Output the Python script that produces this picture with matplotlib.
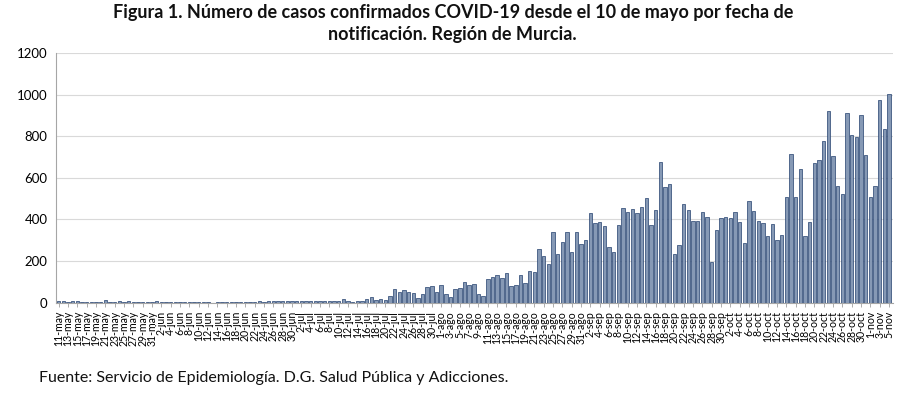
import matplotlib
matplotlib.use("Agg")
import matplotlib.pyplot as plt
import numpy as np
import datetime as dt

plt.rcParams['font.family'] = ['Lato', 'DejaVu Sans']

start = dt.date(2020, 5, 11)
months = {5: 'may', 6: 'jun', 7: 'jul', 8: 'ago', 9: 'sep', 10: 'oct', 11: 'nov'}

casos = [
    8, 7, 4, 8, 9, 5, 4, 3, 4, 2, 12, 5, 4, 6, 5, 8, 5, 2, 1, 2,
    4, 6, 4, 3, 5, 4, 3, 5, 4, 3, 4, 4, 1, 0, 1, 4, 5, 4, 5, 4,
    5, 3, 5, 6, 5, 10, 6, 8, 7, 9, 7, 8, 6, 8, 7, 8, 10, 10, 8,
    8, 8, 19, 8, 3, 8, 8, 19, 26, 14, 19, 14, 34, 67, 51, 62, 53, 45, 24, 42,
    75, 78, 50, 83, 42, 27, 66, 69, 99, 83, 90, 40, 32, 115, 125, 133, 120, 141, 78, 86,
    133, 94, 154, 146, 259, 222, 186, 339, 232, 291, 341, 245, 341, 280, 301, 429, 382, 387, 366, 267,
    242, 371, 454, 438, 450, 430, 458, 501, 371, 446, 677, 555, 568, 234, 275, 475, 446, 392, 392, 434,
    414, 195, 349, 405, 413, 405, 434, 387, 286, 490, 442, 392, 382, 318, 378, 299, 325, 506, 714, 509,
    643, 322, 387, 672, 688, 778, 923, 704, 563, 522, 910, 806, 794, 902, 709, 506, 560, 976, 837, 1002,
]

fechas = [start + dt.timedelta(days=k) for k in range(len(casos))]
etiquetas = [f"{d.day}-{months[d.month]}" for d in fechas]

fig = plt.figure(figsize=(9, 3.93), dpi=100)
ax = fig.add_axes([0.062, 0.23, 0.93, 0.635])

x = np.arange(len(casos))
ax.bar(x, casos, width=0.72, color='#8699B5', edgecolor='#23406E', linewidth=0.5, zorder=3)

ax.set_ylim(0, 1200)
ax.set_yticks(range(0, 1201, 200))
ax.set_xlim(-0.6, len(casos) - 0.2)
ax.set_xticks(x[::2])
ax.set_xticklabels(etiquetas[::2], rotation=90, fontsize=7.6, color='#000000')
ax.tick_params(axis='x', length=3, width=0.6, color='#a0a0a0', pad=3)
ax.tick_params(axis='y', length=0, labelsize=9.5, pad=6)
ax.grid(axis='y', color='#d9d9d9', linewidth=0.8, zorder=0)
for s in ['top', 'right']:
    ax.spines[s].set_visible(False)
ax.spines['left'].set_color('#a6a6a6')
ax.spines['bottom'].set_color('#a6a6a6')
ax.spines['left'].set_linewidth(0.8)
ax.spines['bottom'].set_linewidth(0.8)

fig.text(0.503, 0.99, "Figura 1. Número de casos confirmados COVID-19 desde el 10 de mayo por fecha de\nnotificación. Región de Murcia.",
         ha='center', va='top', fontsize=13, fontweight='bold', linespacing=1.35, color='#111111')
fig.text(0.043, 0.038, "Fuente: Servicio de Epidemiología. D.G. Salud Pública y Adicciones.",
         ha='left', va='center', fontsize=11.5, color='#111111')

fig.savefig("out.png", dpi=100)
